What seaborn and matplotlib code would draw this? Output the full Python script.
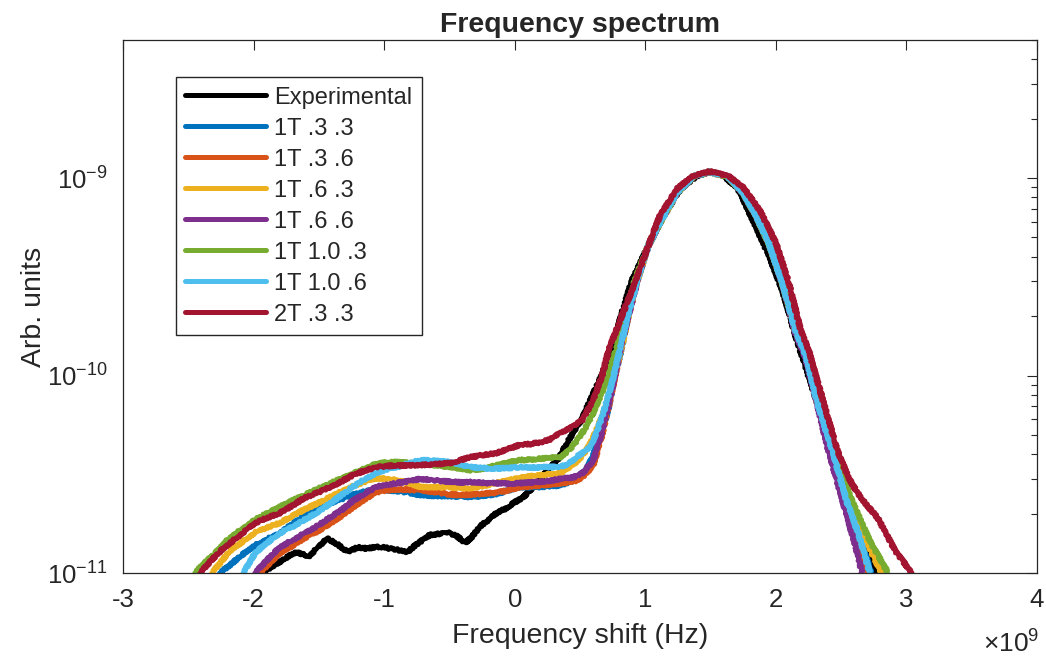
import numpy as np
import pandas as pd
import seaborn as sns
import matplotlib.pyplot as plt

# x in units of 1e9 Hz, y in units of 1e-11 (arb.)
exp_x = [-1.93, -1.86, -1.80, -1.73, -1.67, -1.58, -1.50, -1.44, -1.36, -1.28, -1.20, -1.13, -1.05, -0.98,
         -0.90, -0.82, -0.75, -0.65, -0.58, -0.52, -0.45, -0.38, -0.33, -0.27, -0.20, -0.14, -0.07, -0.01,
         0.06, 0.12, 0.19, 0.25, 0.33, 0.42, 0.51, 0.58, 0.65, 0.75, 0.82, 0.90, 1.02, 1.13, 1.27, 1.40,
         1.50, 1.60, 1.72, 1.83, 1.95, 2.05, 2.15, 2.31, 2.43, 2.55, 2.66, 2.77]
exp_y = [1.00, 1.08, 1.14, 1.22, 1.28, 1.21, 1.36, 1.50, 1.40, 1.28, 1.35, 1.33, 1.36, 1.34,
         1.31, 1.28, 1.40, 1.56, 1.58, 1.61, 1.55, 1.42, 1.52, 1.71, 1.86, 2.01, 2.12, 2.26,
         2.40, 2.63, 2.95, 3.32, 3.73, 4.80, 5.95, 7.5, 9.5, 13.9, 20.7, 30.5, 45, 63, 88, 103,
         107, 103, 86, 60, 40, 27, 16, 7.5, 4.2, 2.4, 1.5, 1.0]

# shared top of the peak for the 1T models
peak_x = [1.02, 1.11, 1.24, 1.37, 1.49, 1.63, 1.75, 1.85, 1.95, 2.05]
peak_y = [45, 59, 84, 102, 107.5, 102, 84, 64, 46, 29.4]

b33_x = [-2.26, -2.18, -2.10, -1.99, -1.90, -1.80, -1.70, -1.61, -1.50, -1.41, -1.32, -1.24, -1.15, -1.06,
         -0.98, -0.90, -0.81, -0.72, -0.62, -0.50, -0.42, -0.34, -0.25, -0.15, -0.05, 0.04, 0.14, 0.25,
         0.35, 0.45, 0.54, 0.60, 0.66, 0.71, 0.76, 0.82, 0.87, 0.94]
b33_y = [1.0, 1.1, 1.22, 1.38, 1.48, 1.59, 1.78, 1.95, 2.10, 2.26, 2.38, 2.50, 2.58, 2.65,
         2.63, 2.60, 2.55, 2.48, 2.46, 2.45, 2.44, 2.43, 2.46, 2.50, 2.62, 2.73, 2.72, 2.74,
         2.78, 2.95, 3.3, 3.9, 5.2, 6.46, 9.5, 13.9, 20.7, 30.5]
b33_tx = [2.15, 2.23, 2.31, 2.43, 2.54, 2.63, 2.73]
b33_ty = [17, 12.5, 7.8, 4.19, 2.34, 1.6, 1.0]

o36_x = [-1.95, -1.88, -1.80, -1.70, -1.61, -1.50, -1.41, -1.32, -1.24, -1.15, -1.06, -0.98, -0.90, -0.81,
         -0.72, -0.62, -0.50, -0.42, -0.34, -0.25, -0.15, -0.05, 0.04, 0.14, 0.25, 0.35, 0.45, 0.52,
         0.60, 0.67, 0.74, 0.80, 0.87, 0.94]
o36_y = [1.0, 1.12, 1.26, 1.38, 1.5, 1.64, 1.79, 1.96, 2.15, 2.36, 2.57, 2.62, 2.65, 2.64,
         2.63, 2.58, 2.50, 2.48, 2.50, 2.52, 2.55, 2.62, 2.73, 2.75, 2.80, 2.85, 2.90, 3.05,
         3.5, 5.0, 8.0, 12.5, 20.0, 30.5]
o36_tx = [2.15, 2.23, 2.31, 2.42, 2.53, 2.62, 2.70]
o36_ty = [17, 12.5, 7.6, 4.1, 2.3, 1.55, 1.0]

y63_x = [-2.32, -2.25, -2.18, -2.08, -1.99, -1.90, -1.80, -1.70, -1.61, -1.50, -1.41, -1.32, -1.24, -1.15,
         -1.06, -0.98, -0.90, -0.81, -0.72, -0.62, -0.50, -0.42, -0.34, -0.25, -0.15, -0.05, 0.04, 0.14,
         0.25, 0.35, 0.43, 0.50, 0.55, 0.60, 0.65, 0.70, 0.77, 0.83, 0.88, 0.94]
y63_y = [1.0, 1.14, 1.30, 1.45, 1.60, 1.70, 1.79, 1.95, 2.10, 2.27, 2.43, 2.60, 2.75, 2.90,
         3.03, 3.00, 2.95, 2.85, 2.73, 2.72, 2.72, 2.70, 2.69, 2.75, 2.85, 2.95, 3.03, 3.10,
         3.15, 3.21, 3.45, 3.80, 4.2, 4.8, 5.8, 7.0, 10.5, 15, 21.5, 30.5]
y63_tx = [2.15, 2.23, 2.31, 2.43, 2.55, 2.68, 2.81]
y63_ty = [17, 12.8, 7.9, 4.3, 2.4, 1.5, 1.0]

p66_x = [-1.99, -1.90, -1.80, -1.70, -1.61, -1.50, -1.41, -1.32, -1.24, -1.15, -1.06, -0.98, -0.90, -0.81,
         -0.72, -0.62, -0.50, -0.42, -0.34, -0.25, -0.15, -0.05, 0.04, 0.14, 0.25, 0.35, 0.45, 0.52,
         0.60, 0.67, 0.74, 0.80, 0.87, 0.94]
p66_y = [1.0, 1.16, 1.35, 1.47, 1.59, 1.75, 1.92, 2.10, 2.32, 2.52, 2.73, 2.80, 2.85, 2.92,
         3.00, 2.95, 2.90, 2.88, 2.89, 2.86, 2.85, 2.84, 2.85, 2.88, 2.92, 3.00, 3.05, 3.2,
         3.7, 5.2, 8.2, 12.8, 20.0, 30.5]
p66_tx = [2.15, 2.23, 2.31, 2.40, 2.51, 2.60, 2.66]
p66_ty = [16.5, 12, 7.5, 4.19, 2.34, 1.45, 1.0]

g103_x = [-2.45, -2.38, -2.30, -2.18, -2.08, -1.99, -1.90, -1.80, -1.70, -1.60, -1.50, -1.41, -1.32, -1.23,
          -1.14, -1.06, -0.98, -0.90, -0.81, -0.72, -0.62, -0.50, -0.42, -0.34, -0.25, -0.15, -0.05, 0.04,
          0.12, 0.20, 0.28, 0.35, 0.42, 0.48, 0.54, 0.60, 0.66, 0.71, 0.78, 0.85, 0.92]
g103_y = [1.00, 1.12, 1.25, 1.52, 1.68, 1.86, 2.00, 2.16, 2.33, 2.50, 2.68, 2.85, 3.02, 3.20,
          3.40, 3.58, 3.62, 3.65, 3.62, 3.58, 3.52, 3.45, 3.38, 3.32, 3.36, 3.50, 3.62, 3.73,
          3.75, 3.80, 3.83, 3.86, 4.20, 4.70, 5.40, 6.46, 8.0, 9.5, 13.9, 20.7, 30.5]
g103_tx = [2.15, 2.23, 2.31, 2.43, 2.58, 2.72, 2.86]
g103_ty = [17.5, 13, 8.0, 4.4, 2.34, 1.45, 1.0]

c106_x = [-2.08, -1.99, -1.90, -1.80, -1.70, -1.61, -1.50, -1.41, -1.32, -1.24, -1.15, -1.06, -0.98, -0.90,
          -0.81, -0.72, -0.62, -0.50, -0.42, -0.34, -0.25, -0.15, -0.05, 0.04, 0.14, 0.25, 0.35, 0.42,
          0.48, 0.54, 0.58, 0.63, 0.68, 0.75, 0.81, 0.87, 0.94]
c106_y = [1.0, 1.26, 1.42, 1.59, 1.72, 1.86, 2.05, 2.26, 2.50, 2.73, 2.98, 3.21, 3.35, 3.45,
          3.60, 3.73, 3.70, 3.65, 3.55, 3.44, 3.40, 3.38, 3.40, 3.44, 3.42, 3.44, 3.44, 3.60,
          3.90, 4.15, 4.35, 5.2, 6.46, 9.5, 13.9, 20.7, 30.5]
c106_tx = [2.15, 2.23, 2.31, 2.43, 2.54, 2.63, 2.72]
c106_ty = [17, 12.5, 7.6, 4.19, 2.34, 1.6, 1.0]

r2t_x = [-2.41, -2.33, -2.25, -2.18, -2.08, -1.99, -1.90, -1.80, -1.70, -1.61, -1.50, -1.41, -1.32, -1.24,
         -1.15, -1.06, -0.98, -0.90, -0.81, -0.72, -0.62, -0.50, -0.42, -0.34, -0.25, -0.14, -0.05, 0.04,
         0.12, 0.20, 0.27, 0.35, 0.44, 0.52, 0.60, 0.67, 0.72, 0.82, 0.92, 1.02, 1.11, 1.24, 1.37, 1.49,
         1.63, 1.75, 1.88, 2.00, 2.10, 2.19, 2.25, 2.36, 2.47, 2.56, 2.65, 2.78, 2.91, 3.04]
r2t_y = [1.0, 1.15, 1.30, 1.42, 1.60, 1.79, 1.90, 2.01, 2.20, 2.40, 2.57, 2.73, 2.92, 3.13,
         3.30, 3.44, 3.48, 3.50, 3.51, 3.52, 3.55, 3.60, 3.72, 3.86, 3.95, 4.05, 4.25, 4.45,
         4.50, 4.60, 4.75, 5.12, 5.50, 5.95, 7.5, 10.0, 13.5, 20.0, 29.4, 45, 64, 88, 103, 108,
         103, 90, 68, 47, 29.4, 17, 13.5, 7.5, 4.19, 3.0, 2.4, 1.9, 1.31, 1.0]

labels = ['Experimental', '1T .3 .3', '1T .3 .6', '1T .6 .3', '1T .6 .6', '1T 1.0 .3', '1T 1.0 .6', '2T .3 .3']
colors = ['#000000', '#0072BD', '#D95319', '#EDB120', '#7E2F8E', '#77AC30', '#4DBEEE', '#A2142F']

series = {
    'Experimental': (exp_x, exp_y),
    '1T .3 .3': (b33_x + peak_x + b33_tx, b33_y + peak_y + b33_ty),
    '1T .3 .6': (o36_x + peak_x + o36_tx, o36_y + peak_y + o36_ty),
    '1T .6 .3': (y63_x + peak_x + y63_tx, y63_y + peak_y + y63_ty),
    '1T .6 .6': (p66_x + peak_x + p66_tx, p66_y + peak_y + p66_ty),
    '1T 1.0 .3': (g103_x + peak_x + g103_tx, g103_y + peak_y + g103_ty),
    '1T 1.0 .6': (c106_x + peak_x + c106_tx, c106_y + peak_y + c106_ty),
    '2T .3 .3': (r2t_x, r2t_y),
}

rows = []
for name in labels:
    xs, ys = series[name]
    for xv, yv in zip(xs, ys):
        rows.append((name, xv, yv * 1e-11))
df = pd.DataFrame(rows, columns=['series', 'shift', 'value'])

sns.set_style('white')
plt.rcParams['font.family'] = ['Liberation Sans', 'DejaVu Sans']
plt.rcParams['mathtext.fontset'] = 'custom'
plt.rcParams['mathtext.rm'] = 'Liberation Sans'
plt.rcParams['axes.unicode_minus'] = False

ink = '#262626'
fig = plt.figure(figsize=(10.46, 6.6), dpi=100)
ax = fig.add_axes([0.1176, 0.1318, 0.8738, 0.8076])

sns.lineplot(data=df, x='shift', y='value', hue='series', hue_order=labels,
             palette=dict(zip(labels, colors)), sort=False, estimator=None,
             linewidth=3.6, ax=ax)

ax.set_yscale('log')
ax.set_xlim(-3, 4)
ax.set_ylim(1e-11, 5e-9)
ax.set_xticks(range(-3, 5))
ax.tick_params(which='both', direction='in', top=True, right=True, colors=ink,
               labelsize=18.5, width=0.8)
ax.tick_params(which='major', length=7)
ax.tick_params(which='minor', length=4)
ax.tick_params(axis='x', which='major', pad=11)
ax.tick_params(axis='y', which='major', pad=11)
ax.xaxis.get_offset_text().set_visible(False)
ax.yaxis.get_offset_text().set_visible(False)
for sp in ax.spines.values():
    sp.set_color(ink)
    sp.set_linewidth(0.9)

ax.set_xlabel('Frequency shift (Hz)', fontsize=20.5, color=ink, labelpad=8)
ax.set_ylabel('Arb. units', fontsize=20.5, color=ink, labelpad=0)
ax.yaxis.set_label_coords(-0.083, 0.5)
ax.set_title('Frequency spectrum', fontsize=20.5, fontweight='bold', pad=6)
fig.text(0.994, 0.004, r'$\times\mathdefault{10^{9}}$', ha='right', va='bottom',
         fontsize=19, color=ink)

handles, labs = ax.get_legend_handles_labels()
leg = ax.legend(handles, labs, loc='upper left', bbox_to_anchor=(0.058, 0.93),
                frameon=True, fancybox=False, framealpha=1, edgecolor=ink,
                handlelength=3.4, handletextpad=0.35, labelspacing=0.38,
                fontsize=17, borderpad=0.4, borderaxespad=0)
leg.get_frame().set_linewidth(1.0)
for ln in leg.get_lines():
    ln.set_linewidth(3.6)

# noisy look of simulated spectra
for ln in ax.lines:
    ln.set_sketch_params(1.2, 3.0, 2.0)

fig.savefig('out.png', dpi=100)
